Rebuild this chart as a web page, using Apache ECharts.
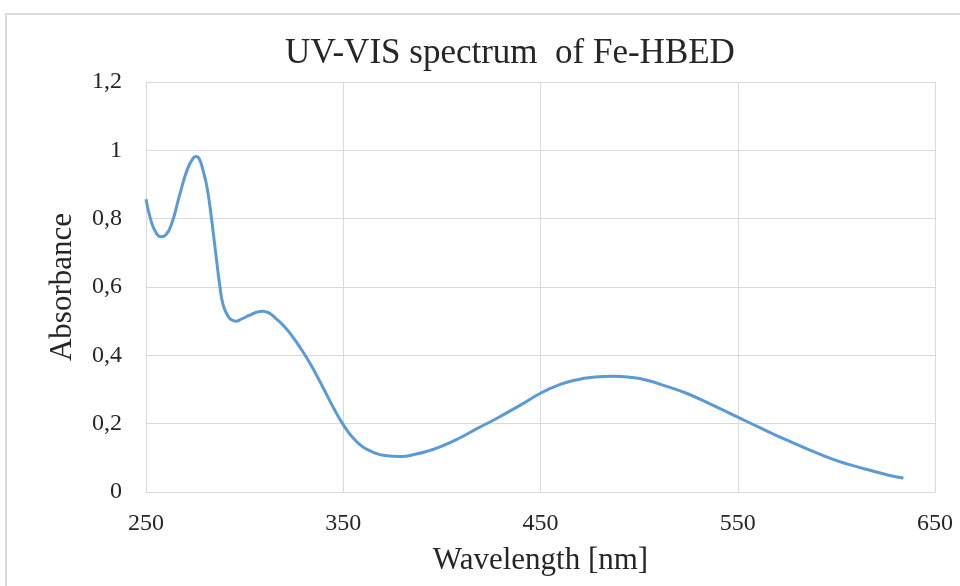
<!DOCTYPE html>
<html>
<head>
<meta charset="utf-8">
<script src="https://cdn.jsdelivr.net/npm/echarts@6/dist/echarts.min.js"></script>
<style>
html,body{margin:0;padding:0;background:#fff;}
#chart{width:960px;height:586px;}
</style>
</head>
<body>
<div id="chart"></div>
<script>
const titleText = 'UV-VIS spectrum  of Fe-HBED';
const xAxisName = 'Wavelength [nm]';
const yAxisName = 'Absorbance';
const xRange = [250, 650];
const yRange = [0, 1.2];

const wavelength = [250,252.5,255,257.5,260,263,267,271,274,275.5,277,279,281,283,285,287.5,289,291,293,295.5,298,302,306,309,312,316,320,324,328,332,336,340,344,348,352,356,360,365,371,379,387,394,400,409,418,428,440,450,460,468,477,487,495,504,514,524,537,550,562,574,586,598,608,618,626,634];
const absorbance = [0.857,0.795,0.760,0.747,0.752,0.785,0.868,0.945,0.978,0.982,0.975,0.94,0.89,0.81,0.716,0.60,0.55,0.521,0.505,0.500,0.505,0.516,0.526,0.529,0.525,0.507,0.485,0.457,0.424,0.388,0.347,0.303,0.258,0.216,0.180,0.152,0.132,0.117,0.107,0.104,0.111,0.122,0.134,0.158,0.186,0.216,0.255,0.289,0.315,0.328,0.336,0.339,0.336,0.327,0.309,0.289,0.255,0.219,0.186,0.154,0.124,0.096,0.078,0.062,0.050,0.041];

const seriesData = wavelength.map((w, i) => [w, absorbance[i]]);
const serif = 'Liberation Serif, Times New Roman, serif';
const txt = '#262626';
const grid = '#d9d9d9';

const chart = echarts.init(document.getElementById('chart'));
chart.setOption({
  animation: false,
  backgroundColor: '#fff',
  graphic: [{
    type: 'rect',
    shape: {x: 6, y: 14, width: 1000, height: 700},
    style: {fill: 'none', stroke: grid, lineWidth: 2},
    silent: true
  }],
  title: {
    text: titleText,
    left: 505,
    textAlign: 'center',
    top: 31,
    textStyle: {fontFamily: serif, fontSize: 35, fontWeight: 'normal', color: txt}
  },
  grid: {left: 146, right: 25, top: 82, bottom: 94, containLabel: false},
  xAxis: {
    type: 'value',
    min: xRange[0], max: xRange[1], interval: 50,
    name: xAxisName, nameLocation: 'middle', nameGap: 53,
    nameTextStyle: {fontFamily: serif, fontSize: 31, color: txt},
    axisLine: {show: true, lineStyle: {color: grid, width: 1}},
    axisTick: {show: false},
    axisLabel: {
      fontFamily: serif, fontSize: 24, color: txt, margin: 20,
      formatter: v => ((v - xRange[0]) % 100 === 0 ? String(v) : '')
    },
    splitLine: {show: true, lineStyle: {color: [grid, 'rgba(0,0,0,0)'], width: 1}}
  },
  yAxis: {
    type: 'value',
    min: yRange[0], max: yRange[1], interval: 0.2,
    name: yAxisName, nameLocation: 'middle', nameGap: 68,
    nameTextStyle: {fontFamily: serif, fontSize: 31, color: txt},
    axisLine: {show: true, lineStyle: {color: grid, width: 1}},
    axisTick: {show: false},
    axisLabel: {
      fontFamily: serif, fontSize: 24, color: txt, margin: 24,
      formatter: v => String(Math.round(v * 10) / 10).replace('.', ',')
    },
    splitLine: {show: true, lineStyle: {color: grid, width: 1}}
  },
  series: [{
    type: 'line',
    data: seriesData,
    smooth: 0.5,
    showSymbol: false,
    symbol: 'none',
    lineStyle: {color: '#5b9bd5', width: 3},
    itemStyle: {color: '#5b9bd5'}
  }]
});
</script>
</body>
</html>
